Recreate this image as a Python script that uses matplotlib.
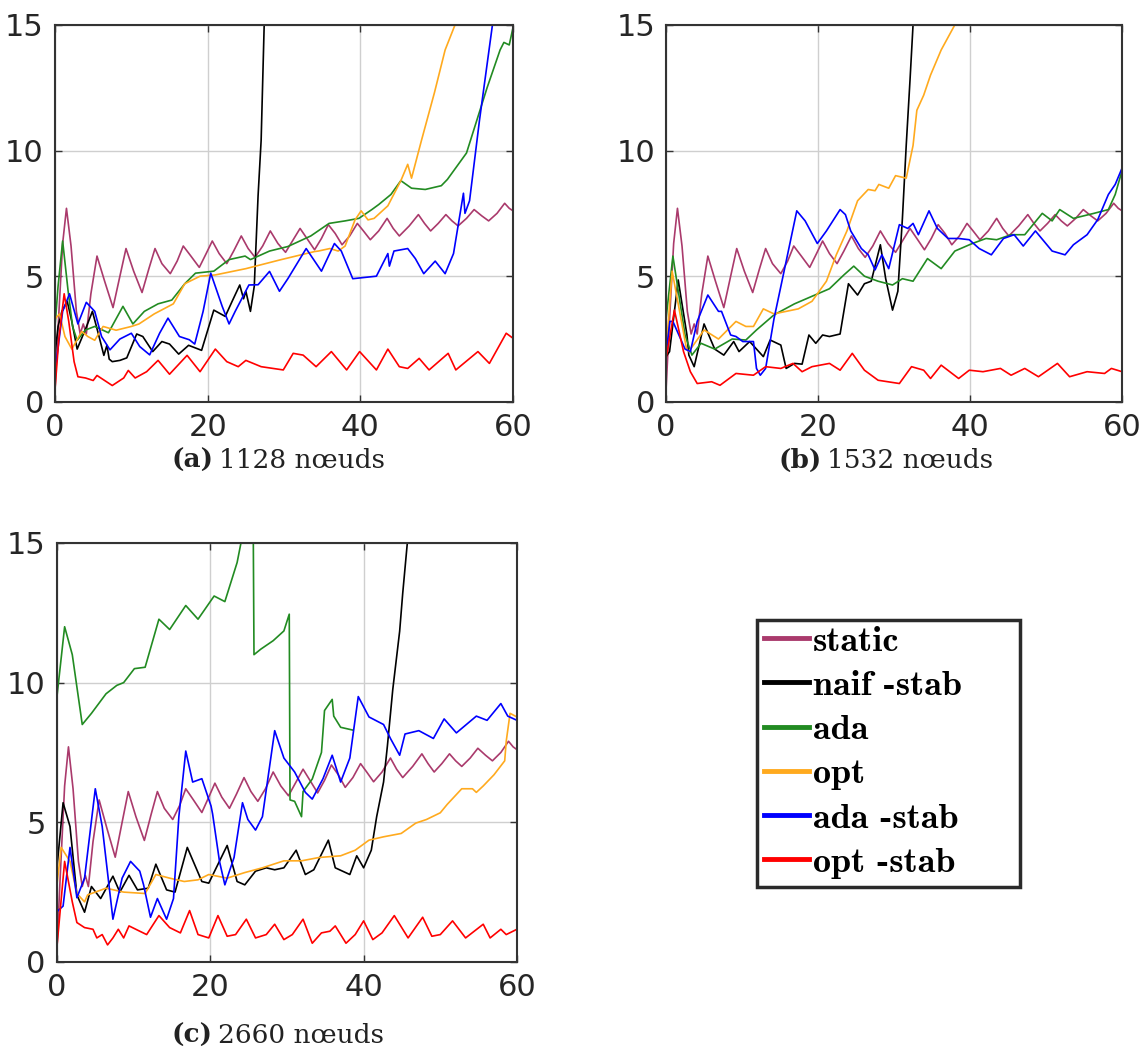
import matplotlib
matplotlib.use("Agg")
import matplotlib.pyplot as plt
from matplotlib.patches import Rectangle

# couleurs des courbes
c_static = "#AA3A6C"
c_naif = "black"
c_ada = "#228B22"
c_opt = "#FFAA1E"
c_ada_stab = "#0000FF"
c_opt_stab = "#FF0000"

labels = ["static", "naif -stab", "ada", "opt", "ada -stab", "opt -stab"]

# courbe static (identique sur les trois cas)
static_x = [0, 0.5, 1.0, 1.5, 2.1, 2.8, 3.3, 3.7, 4.1, 4.7, 5.5, 6.5, 7.6, 8.5, 9.3, 10.3, 11.4, 12.3,
            13.1, 14.0, 15.1, 16.0, 16.8, 17.8, 18.9, 19.8, 20.6, 21.5, 22.5, 23.4, 24.4, 25.3, 26.2,
            27.2, 28.2, 29.2, 30.2, 31.1, 32.1, 33.0, 34.0, 34.9, 35.8, 36.7, 37.6, 38.6, 39.6, 40.4,
            41.3, 42.4, 43.5, 44.3, 45.1, 46.4, 47.6, 48.4, 49.2, 50.2, 51.2, 52.0, 52.8, 53.9, 54.9,
            55.9, 56.8, 57.9, 58.9, 59.5, 60]
static_y = [0.5, 3.5, 6.3, 7.7, 6.2, 3.6, 2.7, 3.1, 2.7, 4.3, 5.8, 4.8, 3.75, 5.0, 6.1, 5.2, 4.35, 5.3,
            6.1, 5.5, 5.1, 5.6, 6.2, 5.8, 5.35, 5.9, 6.4, 5.9, 5.5, 6.0, 6.6, 6.1, 5.75, 6.2, 6.8, 6.3,
            5.95, 6.4, 6.9, 6.5, 6.05, 6.5, 7.05, 6.7, 6.25, 6.6, 7.1, 6.8, 6.45, 6.8, 7.3, 6.9, 6.6,
            7.0, 7.45, 7.1, 6.8, 7.1, 7.45, 7.2, 7.0, 7.3, 7.65, 7.4, 7.2, 7.5, 7.9, 7.7, 7.6]

# (a) 1128 noeuds
a_naif_x = [0, 0.4, 0.9, 1.6, 2.2, 2.9, 4.0, 4.9, 5.6, 6.4, 6.8, 7.1, 7.5, 8.5, 9.4, 10.7, 11.5, 12.8,
            14.0, 15.0, 16.2, 17.5, 19.2, 20.8, 22.3, 23.2, 24.2, 24.7, 25.0, 25.6, 26.1, 26.6, 27.0,
            27.4, 27.6]
a_naif_y = [1.9, 3.0, 3.6, 4.0, 3.2, 2.1, 2.9, 3.6, 2.8, 1.85, 2.25, 1.7, 1.6, 1.65, 1.75, 2.7, 2.6,
            2.0, 2.4, 2.3, 1.9, 2.25, 2.05, 3.65, 3.4, 4.0, 4.65, 4.1, 4.4, 3.6, 4.6, 8.2, 10.4, 15.0,
            15.2]
a_ada_x = [0, 0.4, 1.0, 1.7, 2.3, 2.9, 4.0, 5.2, 7.0, 8.9, 10.2, 11.7, 13.5, 15.3, 17.0, 18.4, 20.8,
           22.8, 24.9, 25.6, 28.1, 30.5, 33.5, 35.9, 38.0, 39.8, 41.5, 42.4, 44.0, 45.3, 46.7, 48.5,
           50.6, 51.4, 53.9, 56.6, 58.3, 58.8, 59.5, 60]
a_ada_y = [3.0, 4.6, 6.4, 4.45, 3.0, 2.45, 2.86, 3.0, 2.75, 3.8, 3.1, 3.6, 3.9, 4.05, 4.7, 5.12, 5.2,
           5.66, 5.8, 5.66, 6.0, 6.18, 6.6, 7.1, 7.2, 7.3, 7.65, 7.85, 8.25, 8.8, 8.5, 8.45, 8.6,
           8.85, 9.9, 12.5, 14.0, 14.3, 14.2, 14.9]
a_opt_x = [0, 0.6, 1.3, 2.2, 3.5, 4.3, 5.2, 6.3, 8.0, 10.0, 11.0, 13.0, 15.5, 17.0, 19.0, 21.0, 25.0,
           29.5, 34.0, 34.5, 36.0, 37.1, 38.0, 39.3, 40.1, 41.0, 41.8, 43.6, 45.3, 46.2, 46.7, 48.0,
           49.7, 51.1, 52.4]
a_opt_y = [3.3, 3.5, 2.6, 2.1, 2.8, 2.6, 2.45, 3.0, 2.85, 3.0, 3.1, 3.5, 3.9, 4.7, 5.0, 5.05, 5.3,
           5.65, 5.98, 6.0, 6.1, 6.0, 6.2, 7.24, 7.6, 7.24, 7.3, 7.8, 8.8, 9.45, 8.9, 10.4, 12.3,
           14.0, 15.0]
a_ada_stab_x = [0, 0.2, 1.0, 1.9, 3.0, 4.1, 5.2, 6.1, 7.2, 8.5, 10.0, 11.1, 12.4, 13.7, 14.8, 16.3,
                17.6, 18.3, 19.4, 20.4, 21.9, 22.8, 23.6, 25.4, 26.6, 28.1, 29.4, 30.5, 32.9, 34.9,
                36.6, 37.5, 39.0, 42.1, 43.6, 43.8, 44.4, 46.2, 47.2, 48.3, 49.8, 51.1, 52.2, 53.5,
                53.7, 54.3, 55.6, 57.3]
a_ada_stab_y = [1.5, 1.67, 3.6, 4.3, 3.1, 3.96, 3.6, 2.6, 2.07, 2.5, 2.73, 2.2, 1.87, 2.73, 3.33,
                2.6, 2.47, 2.3, 3.6, 5.12, 3.8, 3.1, 3.6, 4.65, 4.66, 5.19, 4.4, 4.9, 6.1, 5.2, 6.3,
                6.0, 4.9, 5.0, 5.9, 5.4, 6.0, 6.1, 5.7, 5.1, 5.6, 5.1, 5.9, 8.3, 7.5, 8.0, 11.2, 15.0]
a_opt_stab_x = [0, 0.5, 1.2, 1.8, 2.5, 3.0, 4.0, 5.0, 5.5, 6.5, 7.5, 9.0, 9.6, 10.5, 12.0, 13.5, 15.0,
                17.3, 19.0, 21.0, 22.5, 24.0, 25.0, 27.0, 29.9, 31.2, 32.5, 34.2, 36.2, 38.2, 39.9,
                42.1, 43.6, 45.1, 46.2, 47.7, 49.0, 51.5, 52.5, 55.4, 56.9, 59.1, 60]
a_opt_stab_y = [0.5, 2.5, 4.3, 3.2, 1.6, 1.0, 0.95, 0.85, 1.05, 0.85, 0.65, 0.95, 1.25, 0.95, 1.2,
                1.65, 1.1, 1.85, 1.2, 2.1, 1.6, 1.4, 1.65, 1.4, 1.27, 1.93, 1.86, 1.4, 2.0, 1.27, 2.0,
                1.27, 2.1, 1.4, 1.33, 1.73, 1.27, 1.93, 1.27, 2.0, 1.53, 2.73, 2.53]

# (b) 1532 noeuds
b_naif_x = [0, 0.46, 1.6, 2.75, 3.0, 3.7, 5.0, 6.4, 7.6, 8.9, 9.6, 11.0, 12.8, 13.7, 15.1, 15.8,
            16.9, 17.9, 18.8, 19.7, 20.6, 21.5, 22.9, 24.0, 25.2, 26.1, 27.0, 28.2, 28.9, 29.8, 30.5,
            31.1, 31.6, 32.1, 32.5]
b_naif_y = [1.8, 2.0, 4.85, 2.66, 1.86, 1.4, 3.1, 2.1, 1.86, 2.4, 2.0, 2.4, 1.8, 2.46, 2.26, 1.33,
            1.53, 1.5, 2.66, 2.33, 2.66, 2.6, 2.7, 4.7, 4.25, 4.7, 4.8, 6.25, 4.9, 3.65, 4.4, 7.3,
            10.2, 12.8, 15.0]
b_ada_x = [0, 0.9, 2.5, 3.4, 4.6, 6.4, 8.7, 10.5, 11.9, 14.2, 16.9, 19.2, 21.5, 23.4, 24.7, 26.1,
           27.9, 29.8, 31.1, 32.5, 34.4, 35.3, 36.2, 38.0, 40.3, 42.1, 43.5, 45.4, 47.2, 49.5, 50.8,
           51.8, 53.6, 56.3, 58.2, 59.1, 60]
b_ada_y = [3.3, 5.8, 2.66, 1.86, 2.33, 2.1, 2.5, 2.46, 2.86, 3.46, 3.9, 4.2, 4.5, 5.05, 5.4, 5.0,
           4.8, 4.65, 4.9, 4.8, 5.7, 5.5, 5.3, 6.0, 6.3, 6.5, 6.45, 6.65, 6.65, 7.5, 7.2, 7.65, 7.3,
           7.5, 7.65, 8.25, 9.2]
b_opt_x = [0, 0.8, 2.7, 3.0, 5.0, 6.9, 9.2, 10.5, 11.5, 12.8, 14.2, 17.4, 19.2, 21.1, 22.4, 23.8,
           25.2, 26.6, 27.5, 28.0, 29.3, 30.2, 31.6, 32.5, 33.0, 33.9, 34.8, 36.2, 38.0]
b_opt_y = [2.0, 5.2, 2.1, 2.0, 2.86, 2.5, 3.2, 3.0, 3.0, 3.7, 3.5, 3.7, 4.0, 4.8, 5.85, 6.8, 8.0,
           8.45, 8.4, 8.65, 8.5, 9.0, 8.9, 10.2, 11.6, 12.2, 13.0, 14.0, 15.0]
b_ada_stab_x = [0, 0.5, 0.9, 2.5, 3.2, 4.1, 5.5, 6.9, 7.3, 8.5, 9.2, 10.1, 11.5, 11.9, 12.4, 13.1,
                14.2, 15.6, 17.2, 18.3, 19.9, 21.1, 22.9, 23.6, 24.3, 25.7, 26.6, 27.5, 28.4, 29.3,
                30.7, 31.8, 32.5, 33.2, 34.6, 35.7, 37.1, 38.5, 39.9, 41.2, 42.8, 44.4, 45.8, 47.0,
                48.6, 50.8, 52.5, 53.6, 55.4, 56.8, 58.2, 59.1, 60]
b_ada_stab_y = [1.9, 3.2, 3.2, 2.1, 2.0, 3.2, 4.25, 3.6, 3.6, 2.66, 2.6, 2.4, 2.4, 1.33, 1.06, 1.33,
                3.3, 5.3, 7.6, 7.2, 6.3, 6.8, 7.65, 7.45, 6.8, 6.1, 5.85, 5.25, 5.85, 5.3, 7.05, 6.9,
                7.1, 6.65, 7.6, 6.9, 6.5, 6.5, 6.45, 6.1, 5.85, 6.5, 6.65, 6.2, 6.8, 6.0, 5.85, 6.25,
                6.65, 7.25, 8.25, 8.65, 9.3]
b_opt_stab_x = [0, 1.1, 2.3, 3.2, 4.1, 6.0, 7.1, 9.2, 11.5, 13.1, 15.1, 16.7, 17.9, 19.2, 21.5, 22.9,
                24.5, 26.1, 27.9, 30.7, 32.3, 33.9, 34.8, 36.2, 38.5, 39.9, 41.7, 44.0, 45.4, 47.2,
                49.0, 51.5, 53.1, 55.4, 57.7, 58.6, 60]
b_opt_stab_y = [1.73, 3.65, 2.0, 1.2, 0.73, 0.8, 0.66, 1.13, 1.06, 1.4, 1.33, 1.53, 1.2, 1.4, 1.53,
                1.26, 1.93, 1.26, 0.86, 0.73, 1.4, 1.26, 0.93, 1.46, 0.93, 1.26, 1.2, 1.33, 1.06, 1.33,
                1.0, 1.53, 1.0, 1.2, 1.13, 1.33, 1.2]

# (c) 2660 noeuds
c_naif_x = [0, 0.8, 1.7, 2.6, 3.6, 4.5, 5.7, 7.3, 8.2, 9.4, 10.5, 11.9, 12.9, 14.3, 15.4, 17.0, 18.9,
            19.8, 22.2, 23.5, 24.5, 25.9, 27.3, 28.4, 29.6, 31.2, 32.4, 33.5, 35.4, 36.3, 38.2, 39.1,
            40.0, 41.0, 41.7, 42.6, 43.1, 43.8, 44.7, 45.1, 45.7]
c_naif_y = [3.37, 5.7, 4.85, 2.4, 1.78, 2.7, 2.27, 3.07, 2.5, 3.1, 2.58, 2.64, 3.5, 2.58, 2.5, 4.1,
            2.88, 2.82, 4.17, 2.88, 2.76, 3.25, 3.37, 3.3, 3.37, 4.0, 3.13, 3.3, 4.36, 3.37, 3.13,
            3.8, 3.37, 4.0, 5.2, 6.44, 7.73, 9.75, 11.84, 13.2, 15.0]
c_ada_x = [0, 1.0, 2.0, 3.3, 4.5, 6.4, 7.8, 8.7, 10.1, 11.5, 13.3, 14.7, 16.8, 18.4, 20.5, 21.9, 23.5,
           24.0, 24.3, 25.6, 25.7, 26.6, 28.2, 29.6, 30.3, 30.4, 31.0, 31.9, 32.1, 33.3, 34.5, 34.9,
           35.9, 36.1, 37.0, 38.6]
c_ada_y = [9.5, 12.0, 11.0, 8.5, 8.9, 9.6, 9.9, 10.0, 10.5, 10.55, 12.27, 11.9, 12.76, 12.27, 13.1,
           12.9, 14.3, 15.0, 15.6, 15.6, 11.0, 11.2, 11.5, 11.85, 12.45, 5.8, 5.75, 5.2, 6.1, 6.55,
           7.5, 9.0, 9.4, 8.8, 8.4, 8.3]
c_opt_x = [0, 0.55, 1.7, 2.6, 3.6, 4.0, 6.4, 8.7, 11.5, 12.9, 14.7, 16.6, 18.4, 19.8, 22.2, 24.5,
           26.8, 29.6, 31.9, 34.2, 37.0, 38.9, 40.7, 42.6, 44.9, 46.8, 48.2, 50.0, 50.9, 52.8, 54.2,
           54.7, 55.6, 57.0, 58.4, 58.6, 59.1, 60]
c_opt_y = [2.76, 4.1, 3.6, 2.45, 2.15, 2.4, 2.64, 2.5, 2.45, 3.13, 3.0, 2.88, 2.94, 3.13, 3.0, 3.2,
           3.37, 3.62, 3.62, 3.74, 3.8, 4.0, 4.36, 4.48, 4.6, 4.97, 5.1, 5.34, 5.64, 6.2, 6.2, 6.07,
           6.3, 6.7, 7.2, 7.9, 8.9, 8.77]
c_ada_stab_x = [0, 0.8, 1.7, 2.6, 3.6, 5.0, 5.9, 7.3, 8.5, 9.6, 10.8, 11.3, 12.2, 13.1, 14.3, 15.2,
                15.9, 16.8, 17.7, 18.9, 20.1, 20.3, 21.2, 21.9, 23.1, 24.2, 24.9, 25.9, 26.8, 28.4,
                29.6, 31.0, 32.4, 33.3, 34.7, 35.9, 37.0, 38.2, 39.3, 40.7, 42.6, 43.5, 44.7, 45.4,
                47.2, 49.1, 50.5, 52.1, 54.7, 56.1, 57.9, 58.8, 60]
c_ada_stab_y = [1.8, 2.0, 4.1, 2.3, 3.0, 6.2, 4.85, 1.53, 3.0, 3.6, 3.25, 2.76, 1.6, 2.27, 1.53, 2.27,
                5.2, 7.55, 6.44, 6.56, 5.58, 5.3, 3.6, 2.76, 3.74, 5.7, 5.1, 4.72, 5.2, 8.28, 7.3, 6.8,
                6.07, 5.83, 6.56, 7.4, 6.44, 7.3, 9.5, 8.77, 8.5, 8.0, 7.4, 8.16, 8.28, 8.0, 8.7, 8.2,
                8.8, 8.65, 9.25, 8.8, 8.65]
c_opt_stab_x = [0, 1.0, 2.0, 2.6, 3.6, 4.7, 5.2, 5.9, 6.6, 7.3, 8.0, 8.7, 9.4, 10.8, 11.7, 13.3, 14.7,
                16.1, 17.3, 18.4, 19.8, 21.0, 22.2, 23.3, 24.7, 25.9, 27.3, 28.4, 29.6, 30.7, 32.1,
                33.3, 34.5, 35.6, 36.3, 37.7, 38.9, 40.0, 41.2, 42.4, 44.0, 45.8, 47.7, 48.9, 50.0,
                51.6, 53.3, 55.6, 56.5, 57.9, 58.6, 60]
c_opt_stab_y = [0.55, 3.6, 2.15, 1.41, 1.23, 1.17, 0.86, 0.98, 0.61, 0.86, 1.17, 0.86, 1.29, 1.1,
                0.98, 1.66, 1.23, 1.04, 1.84, 0.98, 0.86, 1.66, 0.92, 0.98, 1.53, 0.86, 0.98, 1.35,
                0.8, 0.98, 1.53, 0.67, 1.04, 1.1, 1.29, 0.67, 0.98, 1.47, 0.8, 1.04, 1.66, 0.86, 1.6,
                0.92, 0.98, 1.47, 0.86, 1.35, 0.86, 1.17, 0.98, 1.17]

colors = [c_static, c_naif, c_ada, c_opt, c_ada_stab, c_opt_stab]

panels = [
    ([0.048, 0.618, 0.3997, 0.3584],
     [(static_x, static_y), (a_naif_x, a_naif_y), (a_ada_x, a_ada_y), (a_opt_x, a_opt_y),
      (a_ada_stab_x, a_ada_stab_y), (a_opt_stab_x, a_opt_stab_y)]),
    ([0.5812, 0.618, 0.3979, 0.3584],
     [(static_x, static_y), (b_naif_x, b_naif_y), (b_ada_x, b_ada_y), (b_opt_x, b_opt_y),
      (b_ada_stab_x, b_ada_stab_y), (b_opt_stab_x, b_opt_stab_y)]),
    ([0.0497, 0.0856, 0.4014, 0.3983],
     [(static_x, static_y), (c_naif_x, c_naif_y), (c_ada_x, c_ada_y), (c_opt_x, c_opt_y),
      (c_ada_stab_x, c_ada_stab_y), (c_opt_stab_x, c_opt_stab_y)]),
]

W, H = 1146, 1052
fig = plt.figure(figsize=(W / 100, H / 100), dpi=100)

handles = []
for rect, series in panels:
    ax = fig.add_axes(rect)
    handles = []
    # ordre de trace : static en dessous
    for (xs, ys), col, lab in zip(series, colors, labels):
        ln, = ax.plot(xs, ys, color=col, lw=1.2, label=lab)
        handles.append(ln)
    ax.set_xlim(0, 60)
    ax.set_ylim(0, 15)
    ax.set_xticks([0, 20, 40, 60])
    ax.set_yticks([0, 5, 10, 15])
    ax.grid(True, color="#cfcfcf", lw=1.0)
    ax.set_axisbelow(True)
    ax.tick_params(direction="in", length=5, width=1.0, colors="#333333",
                   labelsize=22, labelcolor="#262626", top=True, right=True, pad=8)
    for sp in ax.spines.values():
        sp.set_color("#333333")
        sp.set_linewidth(1.5)

# legende (cadre dessine a part, la legende matlab a une grande marge a droite)
leg = fig.legend(handles, labels, loc="upper left",
                 bbox_to_anchor=(760 / W, 1 - 622 / H),
                 prop={"family": ["cmb10", "DejaVu Serif"], "size": 26},
                 frameon=False, handlelength=1.25, handletextpad=0.12,
                 labelspacing=0.33, borderpad=0.1, borderaxespad=0)
for h in leg.legend_handles:
    h.set_linewidth(3.5)
fig.patches.append(Rectangle((757 / W, 1 - 887 / H), 263 / W, 267 / H,
                             transform=fig.transFigure, fill=False,
                             edgecolor="#2a2a2a", linewidth=2.5))

# legendes des sous-figures
captions = [(0.186, 0.562, "(a)", "1128 nœuds"),
            (0.717, 0.562, "(b)", "1532 nœuds"),
            (0.185, 0.016, "(c)", "2660 nœuds")]
for xc, yc, lettre, texte in captions:
    fig.text(xc, yc, lettre, ha="right", va="center", fontsize=19,
             family="DejaVu Serif", weight="bold", color="#222222")
    fig.text(xc + 0.005, yc, texte, ha="left", va="center", fontsize=19,
             family="DejaVu Serif", color="#222222")

fig.savefig("out.png", dpi=100)
